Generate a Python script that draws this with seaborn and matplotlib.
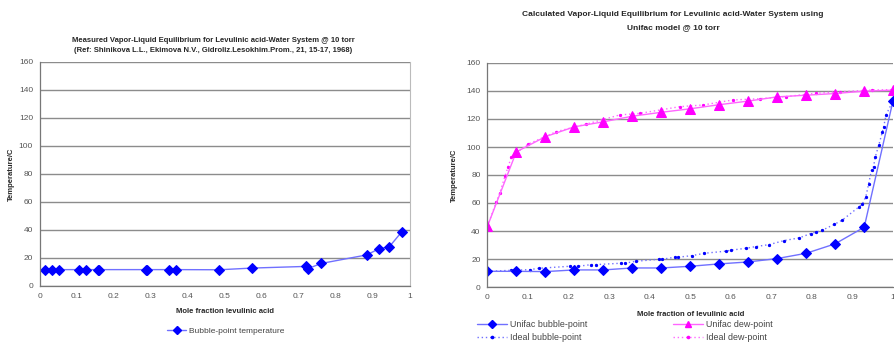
import numpy as np
import pandas as pd
import matplotlib
matplotlib.use("Agg")
import matplotlib.pyplot as plt
import seaborn as sns
from matplotlib.lines import Line2D

sns.set_style("white")
plt.rcParams['font.family'] = ['Liberation Sans', 'DejaVu Sans']

# ---- Data: measured (left) ----
meas_x = [0.014, 0.032, 0.052, 0.105, 0.124, 0.157, 0.160, 0.287, 0.290, 0.350,
          0.368, 0.485, 0.572, 0.720, 0.725, 0.760, 0.883, 0.917, 0.944, 0.978]
meas_t = [11.7, 11.7, 11.7, 11.7, 11.7, 11.7, 11.7, 11.7, 11.7, 11.7,
          11.7, 11.6, 12.8, 14.0, 12.5, 16.1, 22.2, 26.7, 28.0, 38.8]

# ---- Data: calculated (right) ----
unifac_x = [0.0, 0.071, 0.143, 0.214, 0.286, 0.357, 0.429, 0.5, 0.571, 0.643,
            0.714, 0.786, 0.857, 0.929, 1.0]
unifac_bubble = [11.2, 11.2, 11.0, 12.2, 12.2, 13.6, 13.6, 14.8, 16.5, 17.9,
                 20.3, 24.1, 30.8, 42.7, 133.0]
unifac_dew = [43.5, 96.5, 107.4, 114.4, 118.0, 122.0, 124.8, 127.3, 130.2, 132.8,
              135.8, 137.0, 138.2, 139.9, 140.6]

ideal_bub_x = [0.0, 0.057, 0.104, 0.128, 0.203, 0.224, 0.256, 0.268, 0.330, 0.338,
               0.367, 0.422, 0.430, 0.463, 0.471, 0.504, 0.535, 0.588, 0.601, 0.638,
               0.662, 0.695, 0.732, 0.769, 0.797, 0.810, 0.826, 0.855, 0.875, 0.915,
               0.924, 0.933, 0.940, 0.947, 0.952, 0.956, 0.965, 0.974, 0.977, 0.983, 1.0]
ideal_bub_t = [11.2, 11.9, 12.4, 13.4, 14.8, 14.8, 16.0, 16.0, 17.0, 17.0,
               18.4, 19.8, 19.8, 21.3, 21.3, 22.4, 24.1, 25.6, 26.3, 27.7,
               28.9, 30.3, 33.2, 35.1, 38.2, 39.2, 40.6, 44.7, 47.8, 57.0,
               59.0, 64.5, 73.6, 83.6, 86.0, 92.6, 101.4, 111.0, 114.5, 123.0, 133.0]

ideal_dew_x = [0.0, 0.022, 0.030, 0.043, 0.051, 0.059, 0.100, 0.170, 0.244, 0.326,
               0.375, 0.474, 0.531, 0.605, 0.671, 0.736, 0.810, 0.870, 0.949, 1.0]
ideal_dew_t = [43.5, 61.0, 67.0, 79.0, 86.0, 93.0, 102.0, 111.0, 116.4, 122.9,
               124.0, 128.8, 130.0, 133.6, 134.5, 136.0, 138.4, 139.5, 140.7, 141.0]

xticks = [0, 0.1, 0.2, 0.3, 0.4, 0.5, 0.6, 0.7, 0.8, 0.9, 1.0]
xtick_labels = ["0", "0.1", "0.2", "0.3", "0.4", "0.5", "0.6", "0.7", "0.8", "0.9", "1"]
yticks = [0, 20, 40, 60, 80, 100, 120, 140, 160]

W, H = 895, 342
fig = plt.figure(figsize=(W / 100, H / 100), dpi=100)

def frac(x0, y0, x1, y1):
    return [x0 / W, 1 - y1 / H, (x1 - x0) / W, (y1 - y0) / H]

axL = fig.add_axes(frac(40, 62, 410, 286))
axR = fig.add_axes(frac(487.5, 63, 893, 287))

BLUE = "#0000ff"
LBLUE = "#7070ff"
MAG = "#ff00ff"
LMAG = "#ff66ff"
TICKC = "#555555"

def style_axis(ax):
    ax.set_xlim(0, 1)
    ax.set_ylim(0, 160)
    ax.set_xticks(xticks)
    ax.set_xticklabels(xtick_labels)
    ax.set_yticks(yticks)
    ax.tick_params(axis='both', labelsize=6, colors=TICKC, length=3, width=0.8,
                   direction='out', pad=2)
    ax.yaxis.grid(True, color="#8c8c8c", linewidth=1.0)
    ax.xaxis.grid(False)
    ax.spines['top'].set_visible(False)
    ax.spines['right'].set_color("#bbbbbb")
    ax.spines['right'].set_linewidth(0.8)
    ax.spines['left'].set_color("#777777")
    ax.spines['bottom'].set_color("#777777")
    ax.spines['left'].set_linewidth(0.9)
    ax.spines['bottom'].set_linewidth(0.9)
    ax.set_axisbelow(True)

# Left chart
dfL = pd.DataFrame({"x": meas_x, "t": meas_t})
sns.lineplot(data=dfL, x="x", y="t", ax=axL, sort=False, estimator=None,
             color=LBLUE, linewidth=1.0, marker="D", markersize=4.8,
             markerfacecolor=BLUE, markeredgecolor=BLUE, legend=False)
style_axis(axL)
axL.set_xlabel("Mole fraction levulinic acid", fontsize=5.5, fontweight='bold', labelpad=6)
axL.set_ylabel("Temperature/C", fontsize=5.5, fontweight='bold', labelpad=3)

# Right chart
dfU = pd.DataFrame({"x": unifac_x, "bub": unifac_bubble, "dew": unifac_dew})
dfIB = pd.DataFrame({"x": ideal_bub_x, "t": ideal_bub_t})
dfID = pd.DataFrame({"x": ideal_dew_x, "t": ideal_dew_t})

sns.lineplot(data=dfID, x="x", y="t", ax=axR, sort=False, estimator=None,
             color=LMAG, linewidth=1.0, linestyle=(0, (1, 2)), marker="o",
             markersize=1.6, markerfacecolor=MAG, markeredgecolor=MAG, legend=False)
sns.lineplot(data=dfIB, x="x", y="t", ax=axR, sort=False, estimator=None,
             color=LBLUE, linewidth=1.0, linestyle=(0, (1, 2)), marker="o",
             markersize=1.6, markerfacecolor=BLUE, markeredgecolor=BLUE, legend=False)
sns.lineplot(data=dfU, x="x", y="dew", ax=axR, sort=False, estimator=None,
             color=LMAG, linewidth=1.0, marker="^", markersize=6.5,
             markerfacecolor=MAG, markeredgecolor=MAG, legend=False)
sns.lineplot(data=dfU, x="x", y="bub", ax=axR, sort=False, estimator=None,
             color=LBLUE, linewidth=1.0, marker="D", markersize=4.8,
             markerfacecolor=BLUE, markeredgecolor=BLUE, legend=False)
style_axis(axR)
axR.spines['right'].set_visible(False)
axR.set_xlabel("Mole fraction of levulinic acid", fontsize=5.5, fontweight='bold', labelpad=7)
axR.set_ylabel("Temperature/C", fontsize=5.5, fontweight='bold', labelpad=6)

# Titles
fig.text(213 / W, 1 - 40 / H, "Measured Vapor-Liquid Equilibrium for Levulinic acid-Water System @ 10 torr",
         ha='center', va='center', fontsize=5.5, fontweight='bold')
fig.text(213 / W, 1 - 51 / H, "(Ref: Shinikova L.L., Ekimova N.V., Gidroliz.Lesokhim.Prom., 21, 15-17, 1968)",
         ha='center', va='center', fontsize=5.5, fontweight='bold')
fig.text(673 / W, 1 - 15 / H, "Calculated Vapor-Liquid Equilibrium for Levulinic acid-Water System using",
         ha='center', va='center', fontsize=6, fontweight='bold')
fig.text(673 / W, 1 - 28 / H, "Unifac model @ 10 torr",
         ha='center', va='center', fontsize=6, fontweight='bold')

# Legends
hL = [Line2D([], [], color=LBLUE, lw=1.0, marker="D", markersize=4,
             markerfacecolor=BLUE, markeredgecolor=BLUE)]
legL = fig.legend(hL, ["Bubble-point temperature"], loc='center',
                  bbox_to_anchor=(226 / W, 1 - 331 / H), frameon=False,
                  fontsize=6, handlelength=2.2, handletextpad=0.4)
for t in legL.get_texts():
    t.set_color("#444444")

hR = [Line2D([], [], color=LBLUE, lw=1.0, marker="D", markersize=4,
             markerfacecolor=BLUE, markeredgecolor=BLUE),
      Line2D([], [], color=LBLUE, lw=1.0, linestyle=(0, (1, 2)), marker="o", markersize=1.6,
             markerfacecolor=BLUE, markeredgecolor=BLUE),
      Line2D([], [], color=LMAG, lw=1.0, marker="^", markersize=5,
             markerfacecolor=MAG, markeredgecolor=MAG),
      Line2D([], [], color=LMAG, lw=1.0, linestyle=(0, (1, 2)), marker="o", markersize=1.6,
             markerfacecolor=MAG, markeredgecolor=MAG)]
legR = fig.legend(hR, ["Unifac bubble-point", "Ideal bubble-point",
                       "Unifac dew-point", "Ideal dew-point"],
                  loc='upper left', ncol=2, bbox_to_anchor=(475 / W, 1 - 318 / H),
                  frameon=False, fontsize=6.4, handlelength=3.4, handletextpad=0.3,
                  columnspacing=9.7, labelspacing=0.5, borderaxespad=0, borderpad=0.2)
for t in legR.get_texts():
    t.set_color("#444444")

fig.savefig("out.png", dpi=100, facecolor="white")
